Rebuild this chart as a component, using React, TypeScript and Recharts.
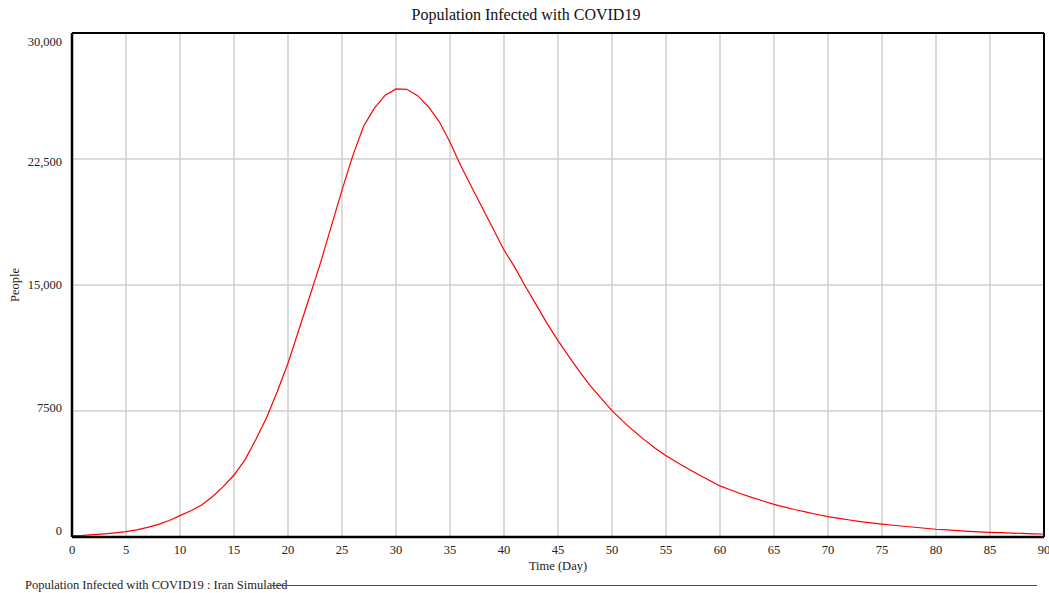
import {
  LineChart,
  Line,
  XAxis,
  YAxis,
  CartesianGrid,
  ReferenceLine,
} from "recharts";

// Simulated infected population (people) for days 0..90
const days = Array.from({ length: 91 }, (_, i) => i);

const infected = [
  80, 100, 140, 190, 250, 320, 420, 570, 755, 980,
  1270, 1560, 1900, 2400, 3000, 3690, 4580, 5770, 7080, 8650,
  10340, 12320, 14300, 16300, 18470, 20650, 22700, 24450, 25530, 26300,
  26670, 26650, 26270, 25610, 24730, 23500, 22100, 20830, 19580, 18330,
  17080, 16050, 14900, 13800, 12700, 11690, 10750, 9850, 9000, 8250,
  7520, 6900, 6320, 5780, 5280, 4840, 4450, 4080, 3720, 3380,
  3040, 2800, 2560, 2340, 2140, 1945, 1780, 1620, 1480, 1340,
  1210, 1110, 1010, 920, 840, 770, 700, 640, 580, 520,
  460, 420, 380, 340, 310, 280, 260, 230, 210, 190,
  180,
];

const xTicks = [0, 5, 10, 15, 20, 25, 30, 35, 40, 45, 50, 55, 60, 65, 70, 75, 80, 85, 90];
const yTicks = [0, 7500, 15000, 22500, 30000];
const yTickLabels = ["0", "7500", "15,000", "22,500", "30,000"];

const seriesName = "Population Infected with COVID19 : Iran Simulated";

const data = days.map((d, i) => ({ day: d, infected: infected[i] }));

const FONT = '"Liberation Serif", "Times New Roman", serif';

// Vensim spreads the y labels a bit inward from the gridlines
const labelShift = [-6, -3.5, 0, 3, 9];

function YTick(props: any) {
  const { x, y, index } = props;
  return (
    <text
      x={x}
      y={y + labelShift[index]}
      textAnchor="end"
      dominantBaseline="central"
      fontFamily={FONT}
      fontSize={12.5}
      fill="#222"
    >
      {yTickLabels[index]}
    </text>
  );
}

export default function App() {
  return (
    <div
      style={{
        position: "absolute",
        left: 0,
        top: 0,
        width: 1049,
        height: 593,
        background: "#fff",
      }}
    >
      <div
        style={{
          position: "absolute",
          left: 0,
          top: 5,
          width: 1052,
          textAlign: "center",
          fontFamily: FONT,
          fontSize: 16,
          color: "#111",
          lineHeight: "20px",
        }}
      >
        Population Infected with COVID19
      </div>
      <LineChart
        width={1049}
        height={593}
        data={data}
        margin={{ top: 33, right: 5, bottom: 20, left: 0 }}
      >
        <CartesianGrid stroke="#cfcfcf" strokeWidth={1.5} />
        <XAxis
          dataKey="day"
          type="number"
          domain={[0, 90]}
          ticks={xTicks}
          interval={0}
          height={36}
          tickLine={false}
          axisLine={{ stroke: "#000", strokeWidth: 2.5 }}
          tick={{ fontFamily: FONT, fontSize: 12.5, fill: "#222" }}
          label={{
            value: "Time (Day)",
            position: "insideBottom",
            offset: 3,
            style: { fontFamily: FONT, fontSize: 12.5, fill: "#222" },
          }}
        />
        <YAxis
          type="number"
          domain={[0, 30000]}
          ticks={yTicks}
          interval={0}
          width={72}
          tickLine={false}
          tickSize={6}
          tickMargin={4}
          axisLine={{ stroke: "#000", strokeWidth: 2.5 }}
          tick={<YTick />}
          label={{
            value: "People",
            angle: -90,
            position: "center",
            dx: -21,
            style: { fontFamily: FONT, fontSize: 12.5, fill: "#222", textAnchor: "middle" },
          }}
        />
        <ReferenceLine y={30000} stroke="#000" strokeWidth={2} />
        <ReferenceLine x={90} stroke="#000" strokeWidth={2} />
        <Line
          type="linear"
          dataKey="infected"
          name={seriesName}
          stroke="#ff0000"
          strokeWidth={1.2}
          dot={false}
          isAnimationActive={false}
        />
      </LineChart>
      <div style={{ position: "absolute", left: 0, top: 577, width: 1049, height: 16 }}>
        <span
          style={{
            position: "absolute",
            left: 25,
            top: 0,
            fontFamily: FONT,
            fontSize: 12.5,
            color: "#222",
            lineHeight: "16px",
            whiteSpace: "nowrap",
          }}
        >
          {seriesName}
        </span>
        <div
          style={{
            position: "absolute",
            left: 272,
            top: 8,
            width: 765,
            height: 1,
            background: "#ff0000",
          }}
        />
      </div>
    </div>
  );
}
